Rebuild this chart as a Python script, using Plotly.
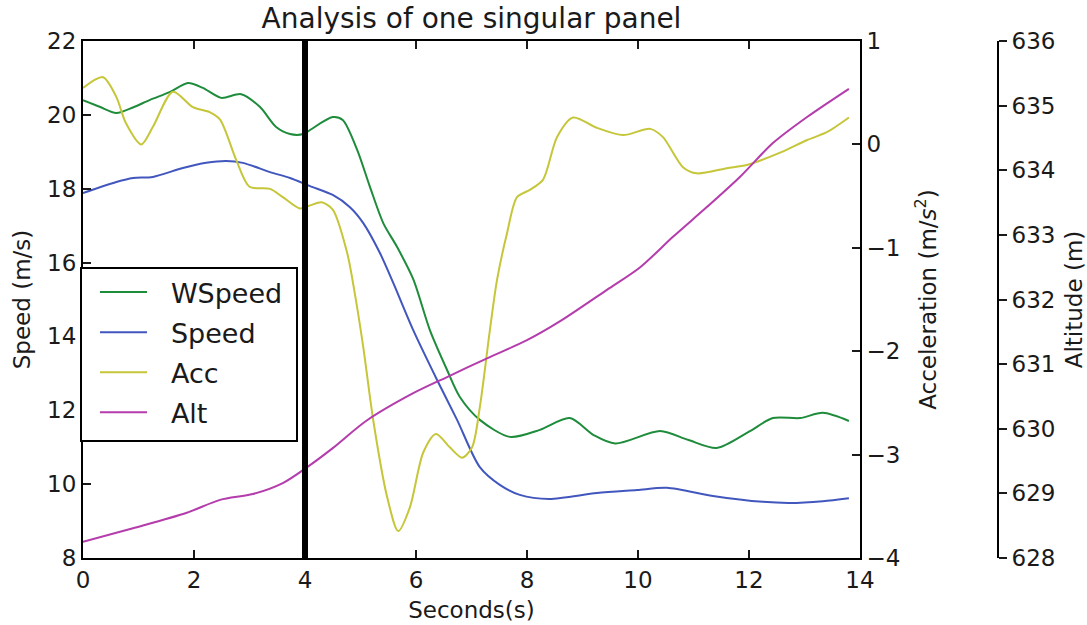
import plotly.graph_objects as go

# Time stamps (s) and readings for each channel
t_wspeed = [0, 0.3, 0.6, 0.9, 1.2, 1.57, 1.89, 2.16, 2.49, 2.85, 3.19, 3.48, 3.73, 3.97,
            4.09, 4.5, 4.68, 4.94, 5.17, 5.41, 5.66, 5.95, 6.25, 6.56, 6.79, 7.15, 7.69,
            8.23, 8.77, 9.2, 9.59, 10.4, 10.9, 11.42, 12.0, 12.43, 12.92, 13.33, 13.8]
wspeed = [20.40, 20.22, 20.05, 20.20, 20.40, 20.62, 20.86, 20.73, 20.46, 20.56, 20.21, 19.67,
          19.48, 19.48, 19.59, 19.94, 19.86, 19.05, 18.05, 17.07, 16.42, 15.55, 14.17, 13.09,
          12.36, 11.74, 11.28, 11.47, 11.79, 11.33, 11.10, 11.44, 11.20, 10.98, 11.42, 11.79,
          11.79, 11.93, 11.71]

t_speed = [0, 0.6, 0.9, 1.26, 1.8, 2.22, 2.58, 2.88, 3.37, 3.73, 4.09, 4.5, 4.81, 5.05, 5.35,
           5.59, 5.95, 6.38, 6.74, 7.15, 7.51, 7.87, 8.4, 9.26, 9.98, 10.52, 11.35, 12.25,
           12.74, 13.33, 13.8]
speed = [17.88, 18.18, 18.29, 18.32, 18.56, 18.70, 18.75, 18.70, 18.45, 18.29, 18.07, 17.83,
         17.50, 17.07, 16.26, 15.45, 14.17, 12.82, 11.74, 10.46, 9.98, 9.71, 9.60, 9.76, 9.84,
         9.90, 9.68, 9.52, 9.49, 9.54, 9.62]

t_acc = [0, 0.36, 0.6, 0.77, 1.05, 1.26, 1.62, 1.98, 2.29, 2.47, 2.76, 3.0, 3.37, 3.6, 3.91,
         4.09, 4.3, 4.5, 4.76, 4.9, 5.05, 5.23, 5.48, 5.68, 5.89, 6.13, 6.36, 6.61, 6.83, 7.01,
         7.15, 7.33, 7.46, 7.64, 7.82, 8.05, 8.29, 8.54, 8.83, 9.26, 9.73, 10.22, 10.45, 10.81,
         11.06, 11.6, 11.96, 12.56, 13.04, 13.41, 13.8]
acc = [0.545, 0.65, 0.46, 0.21, 0.00, 0.17, 0.51, 0.36, 0.31, 0.24, -0.15, -0.41, -0.43, -0.51,
       -0.62, -0.59, -0.56, -0.63, -1.05, -1.45, -1.96, -2.67, -3.41, -3.74, -3.51, -2.98, -2.80,
       -2.93, -3.03, -2.93, -2.54, -1.80, -1.31, -0.86, -0.51, -0.44, -0.34, 0.07, 0.26, 0.16,
       0.09, 0.15, 0.07, -0.22, -0.28, -0.23, -0.20, -0.08, 0.04, 0.12, 0.26]

t_alt = [0, 0.9, 1.87, 2.47, 3.06, 3.6, 4.03, 4.5, 5.1, 5.95, 6.56, 7.28, 8.0, 8.59, 9.44,
         10.04, 10.63, 11.24, 11.84, 12.43, 13.04, 13.8]
alt = [628.25, 628.46, 628.70, 628.90, 628.99, 629.16, 629.40, 629.70, 630.12, 630.55, 630.80,
       631.09, 631.37, 631.66, 632.15, 632.50, 632.97, 633.43, 633.90, 634.42, 634.82, 635.26]

marker_time = 4  # highlighted instant

speed_ticks = [8, 10, 12, 14, 16, 18, 20, 22]
acc_ticks = [-4, -3, -2, -1, 0, 1]
alt_ticks = [628, 629, 630, 631, 632, 633, 634, 635, 636]
time_ticks = [0, 2, 4, 6, 8, 10, 12, 14]

series_names = ["WSpeed", "Speed", "Acc", "Alt"]
series_colors = ["#1f8c3c", "#4257bd", "#c6c63a", "#b43cac"]

FONT = "DejaVu Sans"
INK = "#1a1a1a"
LEGEND_PAD = "\u2002\u2009"  # gap between legend swatch and label

# Pixel frame of the axes area
PX_LEFT, PX_RIGHT, PX_TOP, PX_BOTTOM = 83, 860, 41, 558
PX_ALT_SPINE = 998
W, H = 1087, 625
paper_w = PX_ALT_SPINE - PX_LEFT
paper_h = PX_BOTTOM - PX_TOP


def px_x(px):
    return (px - PX_LEFT) / paper_w


def px_y(py):
    return (PX_BOTTOM - py) / paper_h


fig = go.Figure()
series = [(t_wspeed, wspeed, "y"), (t_speed, speed, "y"), (t_acc, acc, "y2"), (t_alt, alt, "y3")]
for (tx, vy, ax), name, color in zip(series, series_names, series_colors):
    fig.add_trace(go.Scatter(x=tx, y=vy, name=LEGEND_PAD + name, legendgroup=name,
                             mode="lines", line_shape="spline", yaxis=ax,
                             line=dict(color=color, width=2, smoothing=0.8)))

fig.add_shape(type="line", xref="x", yref="paper", x0=marker_time, x1=marker_time,
              y0=0, y1=1, line=dict(color="black", width=6), layer="above")

# Legend frame
fig.add_shape(type="rect", xref="paper", yref="paper",
              x0=px_x(81), x1=px_x(297), y0=px_y(441), y1=px_y(268),
              fillcolor="white", line=dict(color="black", width=2), layer="above")

tick_font = dict(family=FONT, size=23, color=INK)
title_font = dict(family=FONT, size=23, color=INK)
common = dict(showline=True, linecolor="black", linewidth=2, ticklen=8, tickwidth=1.5,
              tickcolor=INK, showgrid=False, zeroline=False, tickfont=tick_font,
              automargin=False)

fig.update_layout(
    width=W, height=H,
    margin=dict(l=PX_LEFT, r=W - PX_ALT_SPINE, t=PX_TOP, b=H - PX_BOTTOM),
    paper_bgcolor="white", plot_bgcolor="white",
    title=dict(text="Analysis of one singular panel", x=(PX_LEFT + PX_RIGHT) / 2 / W,
               xanchor="center", y=1 - 18 / H, yanchor="middle",
               font=dict(family=FONT, size=28, color=INK), automargin=False),
    xaxis=dict(domain=[0, px_x(PX_RIGHT)], range=[0, 14], tickvals=time_ticks,
               mirror="ticks", ticks="inside",
               title=dict(text="Seconds(s)", font=title_font, standoff=10), **common),
    yaxis=dict(range=[8, 22], tickvals=speed_ticks, ticks="inside",
               title=dict(text="Speed (m/s)", font=title_font, standoff=10), **common),
    yaxis2=dict(range=[-4, 1], tickvals=acc_ticks, overlaying="y", side="right", anchor="x",
                ticks="inside",
                title=dict(text="Acceleration (m/<i>s</i><sup>2</sup>)", font=title_font,
                           standoff=20), **common),
    yaxis3=dict(range=[628, 636], tickvals=alt_ticks, overlaying="y", side="right",
                anchor="free", position=1.0, ticks="outside",
                title=dict(text="Altitude (m)", font=title_font, standoff=16), **common),
    legend=dict(x=px_x(95), y=px_y(268), xanchor="left", yanchor="top",
                bgcolor="rgba(0,0,0,0)", borderwidth=0,
                font=dict(family=FONT, size=27, color=INK), tracegroupgap=2,
                itemwidth=47),
    showlegend=True,
)

fig.write_html("out.html")
